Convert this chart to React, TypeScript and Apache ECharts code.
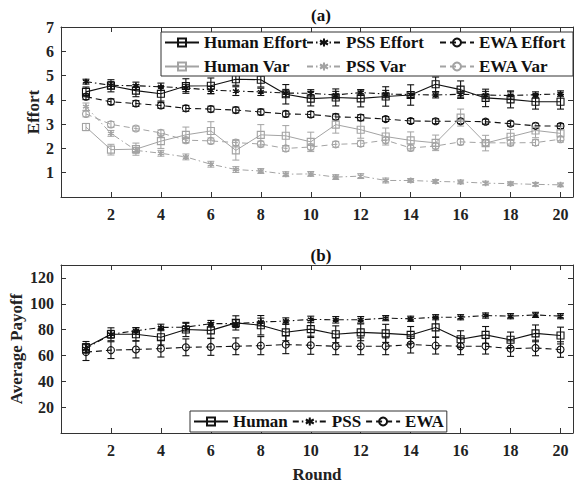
import React, { useEffect, useRef } from "react";
import * as echarts from "echarts";

const FONT = "Liberation Serif";
const BLACK = "#111111";
const GRAY = "#a3a3a3";
const AXIS = "#333333";

const rounds = [1, 2, 3, 4, 5, 6, 7, 8, 9, 10, 11, 12, 13, 14, 15, 16, 17, 18, 19, 20];

// (a) Effort
const humanEffort = [4.33, 4.58, 4.38, 4.25, 4.57, 4.58, 4.85, 4.83, 4.23, 4.05, 4.1, 4.06, 4.14, 4.2, 4.64, 4.42, 4.08, 4.02, 3.92, 3.92];
const humanEffortErr = [0.2, 0.25, 0.25, 0.3, 0.3, 0.32, 0.25, 0.3, 0.4, 0.3, 0.35, 0.35, 0.4, 0.42, 0.3, 0.36, 0.36, 0.35, 0.3, 0.3];
const pssEffort = [4.75, 4.6, 4.58, 4.54, 4.49, 4.4, 4.36, 4.33, 4.28, 4.27, 4.2, 4.3, 4.24, 4.22, 4.2, 4.23, 4.2, 4.18, 4.21, 4.25];
const pssEffortErr = [0.1, 0.15, 0.15, 0.15, 0.15, 0.15, 0.18, 0.15, 0.15, 0.15, 0.15, 0.12, 0.15, 0.12, 0.12, 0.12, 0.15, 0.15, 0.12, 0.12];
const ewaEffort = [4.13, 3.92, 3.85, 3.77, 3.65, 3.62, 3.58, 3.5, 3.42, 3.4, 3.3, 3.27, 3.21, 3.13, 3.12, 3.12, 3.1, 3.02, 2.93, 2.92];
const ewaEffortErr = [0.12, 0.12, 0.12, 0.12, 0.12, 0.12, 0.12, 0.12, 0.12, 0.12, 0.12, 0.12, 0.1, 0.1, 0.1, 0.1, 0.1, 0.1, 0.1, 0.1];
const humanVar = [2.88, 1.95, 1.97, 2.3, 2.56, 2.72, 1.92, 2.56, 2.52, 2.27, 2.98, 2.77, 2.49, 2.33, 2.23, 3.27, 2.22, 2.48, 2.74, 2.62];
const humanVarErr = [0.15, 0.22, 0.25, 0.3, 0.32, 0.38, 0.4, 0.42, 0.42, 0.4, 0.35, 0.35, 0.35, 0.35, 0.32, 0.35, 0.32, 0.3, 0.3, 0.3];
const pssVar = [3.72, 2.62, 1.92, 1.8, 1.65, 1.35, 1.13, 1.07, 0.94, 0.95, 0.82, 0.86, 0.68, 0.68, 0.64, 0.62, 0.57, 0.55, 0.52, 0.5];
const pssVarErr = [0.15, 0.12, 0.12, 0.12, 0.12, 0.12, 0.12, 0.1, 0.1, 0.1, 0.1, 0.1, 0.1, 0.08, 0.08, 0.08, 0.08, 0.08, 0.08, 0.08];
const ewaVar = [3.42, 2.99, 2.82, 2.64, 2.34, 2.31, 2.24, 2.18, 2.0, 2.06, 2.17, 2.2, 2.34, 2.02, 2.1, 2.27, 2.23, 2.23, 2.24, 2.38];
const ewaVarErr = [0.12, 0.12, 0.1, 0.12, 0.12, 0.12, 0.12, 0.12, 0.12, 0.12, 0.12, 0.12, 0.12, 0.12, 0.12, 0.12, 0.12, 0.12, 0.12, 0.12];

// (b) Average Payoff
const humanPayoff = [66.3, 76.4, 76.4, 74.1, 80.1, 79.4, 85.2, 83.4, 77.9, 80.4, 76.4, 77.9, 77.1, 75.9, 81.7, 72.6, 75.9, 72.1, 77.1, 75.4];
const humanPayoffErr = [4.5, 5, 5, 6, 5.5, 6, 5.5, 7.5, 6.5, 6.5, 6.5, 6.5, 7, 6.5, 7.5, 6.5, 6.5, 6, 6.5, 6.5];
const pssPayoff = [65.3, 76.4, 79.1, 81.7, 81.9, 84.6, 84.6, 85.9, 86.6, 87.9, 87.6, 87.6, 88.9, 88.4, 89.6, 89.6, 90.9, 90.4, 91.4, 90.4];
const pssPayoffErr = [3, 3, 2.5, 2.5, 3, 2.5, 3, 3, 2.5, 2.5, 2.5, 2.5, 2, 2, 2, 2, 2, 2, 2, 2];
const ewaPayoff = [62.6, 64.1, 64.6, 65.3, 66.3, 66.6, 67.1, 67.6, 68.4, 67.9, 67.1, 67.1, 67.1, 68.4, 67.6, 67.1, 67.1, 65.3, 65.8, 64.6];
const ewaPayoffErr = [6.5, 6.5, 6.5, 6.5, 6.5, 6.5, 6.5, 7, 7, 7, 6.5, 6.5, 6.5, 6.5, 6.5, 6.5, 6, 6, 6, 6];

const effortTicks = [1, 2, 3, 4, 5, 6, 7];
const payoffTicks = [20, 40, 60, 80, 100, 120];
const roundTicks = [2, 4, 6, 8, 10, 12, 14, 16, 18, 20];

const STAR = "path://M0,-5L0,5M-4.33,-2.5L4.33,2.5M-4.33,2.5L4.33,-2.5";
const DASH = [6, 4];
const DASHDOT = [6, 3, 1.5, 3];

type Spec = {
  name: string;
  vals: number[];
  err: number[];
  color: string;
  dash: any;
  symbol: string;
  grid: number;
};

const specs: Spec[] = [
  { name: "Human Effort", vals: humanEffort, err: humanEffortErr, color: BLACK, dash: "solid", symbol: "rect", grid: 0 },
  { name: "PSS Effort", vals: pssEffort, err: pssEffortErr, color: BLACK, dash: DASHDOT, symbol: STAR, grid: 0 },
  { name: "EWA Effort", vals: ewaEffort, err: ewaEffortErr, color: BLACK, dash: DASH, symbol: "circle", grid: 0 },
  { name: "Human Var", vals: humanVar, err: humanVarErr, color: GRAY, dash: "solid", symbol: "rect", grid: 0 },
  { name: "PSS Var", vals: pssVar, err: pssVarErr, color: GRAY, dash: DASHDOT, symbol: STAR, grid: 0 },
  { name: "EWA Var", vals: ewaVar, err: ewaVarErr, color: GRAY, dash: DASH, symbol: "circle", grid: 0 },
  { name: "Human", vals: humanPayoff, err: humanPayoffErr, color: BLACK, dash: "solid", symbol: "rect", grid: 1 },
  { name: "PSS", vals: pssPayoff, err: pssPayoffErr, color: BLACK, dash: DASHDOT, symbol: STAR, grid: 1 },
  { name: "EWA", vals: ewaPayoff, err: ewaPayoffErr, color: BLACK, dash: DASH, symbol: "circle", grid: 1 },
];

const tickText = { fontFamily: FONT, fontWeight: "bold" as const, fontSize: 16, color: "#222" };

function xAxis(gridIndex: number, top: boolean, name?: string) {
  return {
    type: "value",
    gridIndex,
    min: 0,
    max: 20.5,
    interval: 2,
    position: top ? "top" : "bottom",
    name: name || "",
    nameLocation: "middle",
    nameGap: 33,
    nameMoveOverlap: false,
    nameTextStyle: { fontFamily: FONT, fontWeight: "bold", fontSize: 17, color: "#222" },
    axisLine: { show: true, onZero: false, lineStyle: { color: AXIS, width: 1 } },
    axisTick: { show: true, inside: true, length: 5, lineStyle: { color: AXIS } },
    axisLabel: top
      ? { show: false }
      : { ...tickText, margin: 9, formatter: (v: number) => (roundTicks.includes(v) ? String(v) : "") },
    splitLine: { show: false },
  };
}

function yAxis(gridIndex: number, right: boolean, max: number, interval: number, ticks: number[], name?: string, gap?: number) {
  return {
    type: "value",
    gridIndex,
    min: 0,
    max,
    interval,
    position: right ? "right" : "left",
    name: name || "",
    nameLocation: "middle",
    nameGap: gap || 20,
    nameMoveOverlap: false,
    nameTextStyle: { fontFamily: FONT, fontWeight: "bold", fontSize: 17, color: "#222" },
    axisLine: { show: true, onZero: false, lineStyle: { color: AXIS, width: 1 } },
    axisTick: { show: true, inside: true, length: 5, lineStyle: { color: AXIS } },
    axisLabel: right
      ? { show: false }
      : { ...tickText, margin: 7, formatter: (v: number) => (ticks.includes(v) ? String(v) : "") },
    splitLine: { show: false },
  };
}

export default function App() {
  const ref = useRef<HTMLDivElement>(null);
  useEffect(() => {
    if (!ref.current) return;
    const chart = echarts.init(ref.current, undefined, { renderer: "svg" });

    const series: any[] = [];
    specs.forEach((s) => {
      const axisIdx = s.grid;
      const lw = s.color === BLACK ? 1.1 : 1;
      series.push({
        type: "custom",
        name: s.name + " error",
        xAxisIndex: axisIdx,
        yAxisIndex: axisIdx,
        silent: true,
        z: 2,
        encode: { x: 0, y: [1, 2] },
        data: rounds.map((r, i) => [r, s.vals[i] - s.err[i], s.vals[i] + s.err[i]]),
        renderItem: (params: any, api: any) => {
          const x = api.value(0);
          const lo = api.coord([x, api.value(1)]);
          const hi = api.coord([x, api.value(2)]);
          const w = 3.5;
          const style = { stroke: s.color, lineWidth: lw };
          return {
            type: "group",
            children: [
              { type: "line", shape: { x1: lo[0], y1: lo[1], x2: hi[0], y2: hi[1] }, style },
              { type: "line", shape: { x1: lo[0] - w, y1: lo[1], x2: lo[0] + w, y2: lo[1] }, style },
              { type: "line", shape: { x1: hi[0] - w, y1: hi[1], x2: hi[0] + w, y2: hi[1] }, style },
            ],
          };
        },
      });
      series.push({
        type: "line",
        name: s.name,
        xAxisIndex: axisIdx,
        yAxisIndex: axisIdx,
        z: 3,
        data: rounds.map((r, i) => [r, s.vals[i]]),
        color: s.color,
        symbol: s.symbol,
        symbolSize: s.symbol === STAR ? 6 : 7,
        showAllSymbol: true,
        lineStyle: { color: s.color, width: lw, type: s.dash },
        itemStyle: {
          color: "rgba(255,255,255,0)",
          borderColor: s.color,
          borderWidth: s.symbol === STAR ? 1.6 : 1.1,
        },
        emphasis: { disabled: true },
      });
    });

    const legendText = { fontFamily: FONT, fontWeight: "bold", fontSize: 17, color: "#111" };
    const topLegend = (names: string[], left: number) => ({
      data: names,
      orient: "vertical",
      left,
      top: 34,
      itemGap: 7,
      itemWidth: 34,
      itemHeight: 10,
      selectedMode: false,
      padding: 0,
      textStyle: legendText,
      z: 6,
    });

    chart.setOption({
      animation: false,
      backgroundColor: "#ffffff",
      grid: [
        { left: 61, right: 8, top: 27, height: 170 },
        { left: 61, right: 8, top: 265, height: 172 },
      ],
      xAxis: [xAxis(0, false), xAxis(1, false, "Round"), xAxis(0, true), xAxis(1, true)],
      yAxis: [
        yAxis(0, false, 7, 1, effortTicks, "Effort", 19),
        yAxis(1, false, 130, 20, payoffTicks, "Average Payoff", 36),
        yAxis(0, true, 7, 1, effortTicks),
        yAxis(1, true, 130, 20, payoffTicks),
      ],
      legend: [
        topLegend(["Human Effort", "Human Var"], 164),
        topLegend(["PSS Effort", "PSS Var"], 306),
        topLegend(["EWA Effort", "EWA Var"], 439),
        {
          data: ["Human", "PSS", "EWA"],
          orient: "horizontal",
          left: 190,
          top: 411,
          itemGap: 4,
          itemWidth: 34,
          itemHeight: 10,
          selectedMode: false,
          padding: [2, 3, 2, 3],
          borderColor: AXIS,
          borderWidth: 1,
          backgroundColor: "#ffffff",
          textStyle: legendText,
          z: 6,
        },
      ],
      graphic: [
        {
          type: "rect",
          z: 5,
          shape: { x: 161, y: 32, width: 412, height: 44 },
          style: { fill: "#ffffff", stroke: AXIS, lineWidth: 1 },
        },
        {
          type: "text",
          x: 321,
          y: 15,
          style: { text: "(a)", fontFamily: FONT, fontWeight: "bold", fontSize: 17, fill: "#111", align: "center", verticalAlign: "middle" },
        },
        {
          type: "text",
          x: 321,
          y: 255,
          style: { text: "(b)", fontFamily: FONT, fontWeight: "bold", fontSize: 17, fill: "#111", align: "center", verticalAlign: "middle" },
        },
      ],
      series,
    });
    return () => chart.dispose();
  }, []);
  return <div ref={ref} style={{ width: 581, height: 484, position: "absolute", left: 0, top: 0 }} />;
}
